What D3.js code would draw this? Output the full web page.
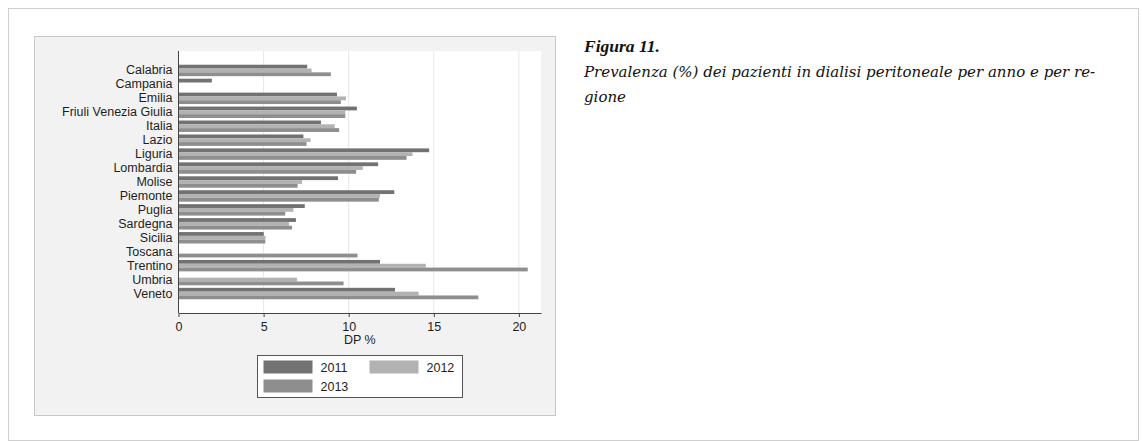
<!DOCTYPE html>
<html>
<head>
<meta charset="utf-8">
<script src="https://cdn.jsdelivr.net/npm/d3@7"></script>
<style>
  body { margin: 0; background: #fff; }
  svg text { font-family: "Liberation Sans", Arial, sans-serif; fill: #1e1e1e; }
  .caption text { font-family: "DejaVu Serif", "Liberation Serif", serif; font-style: italic; fill: #111; }
</style>
</head>
<body>
<svg width="1142" height="441"></svg>
<script>
const regions = ['Calabria', 'Campania', 'Emilia', 'Friuli Venezia Giulia', 'Italia', 'Lazio',
  'Liguria', 'Lombardia', 'Molise', 'Piemonte', 'Puglia', 'Sardegna', 'Sicilia', 'Toscana',
  'Trentino', 'Umbria', 'Veneto']
const years = ['2011', '2012', '2013']
// null = no bar drawn
const dp2011 = [7.56, 1.96, 9.31, 10.48, 8.37, 7.34, 14.73, 11.73, 9.37, 12.68, 7.42, 6.9, 5.01, null, 11.84, null, 12.72]
const dp2012 = [7.82, null, 9.84, 9.8, 9.18, 7.76, 13.75, 10.83, 7.26, 11.84, 6.75, 6.49, 5.11, null, 14.53, 6.96, 14.11]
const dp2013 = [8.95, null, 9.54, 9.8, 9.44, 7.52, 13.4, 10.44, 7.0, 11.77, 6.27, 6.67, 5.1, 10.52, 20.52, 9.7, 17.62]
const xTicks = [0, 5, 10, 15, 20]
const colors = ['#727272', '#b2b2b2', '#8e8e8e']

const series = [dp2011, dp2012, dp2013]
const data = regions.map((r, i) => ({ region: r, values: years.map((y, j) => ({ year: y, value: series[j][i] })) }))

const svg = d3.select('svg')

// outer frame
svg.append('rect')
  .attr('x', 8.5).attr('y', 8.5)
  .attr('width', 1130).attr('height', 432)
  .attr('fill', '#fff').attr('stroke', '#cfcfcf')

// chart panel
svg.append('rect')
  .attr('x', 34.5).attr('y', 36.5)
  .attr('width', 521).attr('height', 379)
  .attr('fill', '#f2f2f2').attr('stroke', '#c8c8c8')

const plot = { left: 178.5, right: 541, top: 51, bottom: 313 }

const xScale = d3.scaleLinear()
  .domain([0, 21.3])
  .range([plot.left, plot.right])

const yScale = d3.scaleBand()
  .domain(regions)
  .range([plot.top, plot.bottom])
  .paddingInner(0.18)
  .paddingOuter(0.985)

const barScale = d3.scaleBand()
  .domain(years)
  .range([0, yScale.bandwidth()])

// plot background
svg.append('rect')
  .attr('x', plot.left).attr('y', plot.top)
  .attr('width', plot.right - plot.left).attr('height', plot.bottom - plot.top)
  .attr('fill', '#fff')

// gridlines
svg.append('g')
  .selectAll('line')
  .data(xTicks.slice(1))
  .join('line')
  .attr('x1', d => xScale(d)).attr('x2', d => xScale(d))
  .attr('y1', plot.top).attr('y2', plot.bottom)
  .attr('stroke', '#e6e6e6')

// bars
const groups = svg.append('g')
  .selectAll('g')
  .data(data)
  .join('g')
  .attr('transform', d => `translate(0, ${yScale(d.region)})`)

groups.selectAll('rect')
  .data(d => d.values.filter(v => v.value != null))
  .join('rect')
  .attr('x', xScale(0))
  .attr('y', d => barScale(d.year))
  .attr('width', d => xScale(d.value) - xScale(0))
  .attr('height', barScale.bandwidth())
  .attr('fill', d => colors[years.indexOf(d.year)])

// y axis
const yAxis = d3.axisLeft(yScale).tickSize(0).tickPadding(6)
const yAxisGroup = svg.append('g')
  .attr('transform', `translate(${plot.left}, 0)`)
  .call(yAxis)
yAxisGroup.select('.domain').remove()
yAxisGroup.selectAll('text').attr('font-size', 12.5).attr('fill', '#1e1e1e')
  .attr('font-family', '"Liberation Sans", Arial, sans-serif')
svg.append('line')
  .attr('x1', plot.left).attr('x2', plot.left)
  .attr('y1', plot.top).attr('y2', plot.bottom)
  .attr('stroke', '#444')

// x axis
const xAxis = d3.axisBottom(xScale)
  .tickValues(xTicks)
  .tickSize(4)
  .tickSizeOuter(0)
  .tickPadding(5)
const xAxisGroup = svg.append('g')
  .attr('transform', `translate(0, ${plot.bottom})`)
  .call(xAxis)
xAxisGroup.select('.domain').attr('stroke', '#444')
xAxisGroup.selectAll('.tick line').attr('stroke', '#444')
xAxisGroup.selectAll('text').attr('font-size', 12.5).attr('fill', '#1e1e1e')
  .attr('font-family', '"Liberation Sans", Arial, sans-serif')

svg.append('text')
  .attr('x', (plot.left + plot.right) / 2)
  .attr('y', 344)
  .attr('text-anchor', 'middle')
  .attr('font-size', 12.5)
  .text('DP %')

// legend
const legend = svg.append('g').attr('transform', 'translate(257.5, 355.5)')
legend.append('rect')
  .attr('width', 205).attr('height', 42)
  .attr('fill', '#fff').attr('stroke', '#555')
const legendPos = [[6, 5], [112, 5], [6, 24]]
const items = legend.selectAll('g.item')
  .data(years)
  .join('g')
  .attr('class', 'item')
  .attr('transform', (d, i) => `translate(${legendPos[i][0]}, ${legendPos[i][1]})`)
items.append('rect')
  .attr('width', 49).attr('height', 13)
  .attr('fill', (d, i) => colors[i])
items.append('text')
  .attr('x', 57).attr('y', 11)
  .attr('font-size', 12.5)
  .text(d => d)

// caption
const caption = svg.append('g').attr('class', 'caption')
caption.append('text')
  .attr('x', 584).attr('y', 52)
  .attr('font-size', 17.5).attr('font-weight', 'bold')
  .style('font-family', '"Liberation Serif", serif')
  .text('Figura 11.')
const captionLines = ['Prevalenza (%) dei pazienti in dialisi peritoneale per anno e per re-', 'gione']
caption.selectAll('text.line')
  .data(captionLines)
  .join('text')
  .attr('class', 'line')
  .attr('x', 584)
  .attr('y', (d, i) => 77 + i * 25)
  .attr('font-size', 15)
  .text(d => d)
</script>
</body>
</html>
